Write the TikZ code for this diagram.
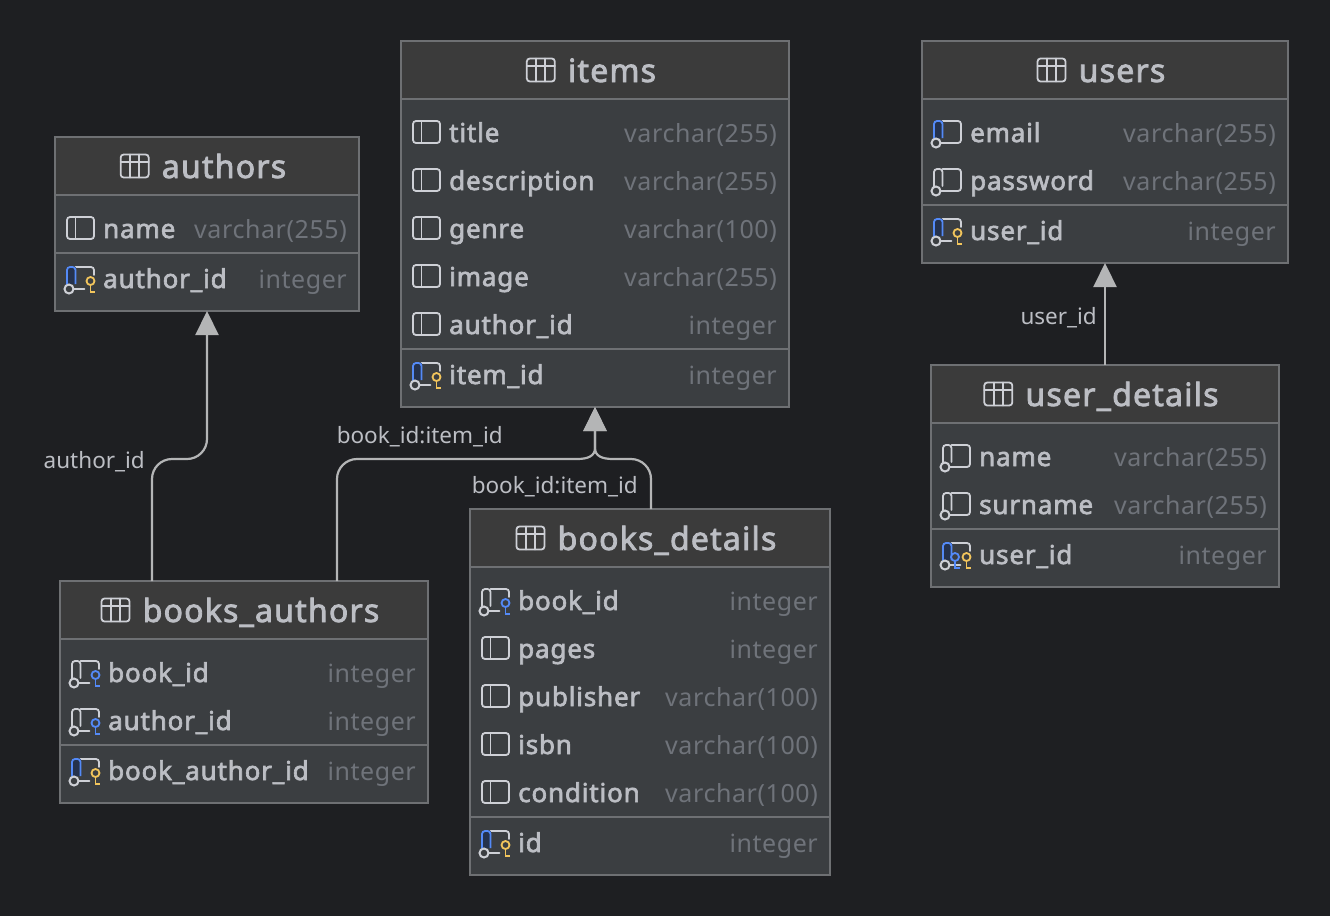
\documentclass[tikz,border=0pt]{standalone}
\usepackage{fontspec}
\usepackage{xcolor}
\setmainfont{Noto Sans}
\newfontfamily\dbFontTitle{Noto Sans}[LetterSpace=3.8,FakeBold=2.5]
\newfontfamily\dbFontName{Noto Sans}[LetterSpace=3.2,FakeBold=2.5]
\newfontfamily\dbFontType{Noto Sans}[LetterSpace=2.3]
\usetikzlibrary{arrows.meta}
\definecolor{cBack}{HTML}{1E1F22}
\definecolor{cHead}{HTML}{3B3B3B}
\definecolor{cBody}{HTML}{3B3E41}
\definecolor{cEdge}{HTML}{6E7073}
\definecolor{cText}{HTML}{BCBEC4}
\definecolor{cType}{HTML}{6F737A}
\definecolor{cIcon}{HTML}{CED0D6}
\definecolor{cBlue}{HTML}{548AF7}
\definecolor{cDeep}{HTML}{25324D}
\definecolor{cGold}{HTML}{F2C55C}
\definecolor{cLink}{HTML}{B4B5B6}
\tikzstyle{dbBody} = [rectangle, anchor=north west, outer sep=0pt, inner sep=0pt, draw=cEdge, line width=1.3pt, fill=cBody]
\tikzstyle{dbHead} = [rectangle, anchor=north west, outer sep=0pt, inner sep=0pt, draw=cEdge, line width=1.3pt, fill=cHead, minimum height=58pt]
\tikzstyle{dbTitle} = [anchor=base, inner sep=0pt, text=cText, font=\dbFontTitle\fontsize{32}{36}\selectfont]
\tikzstyle{dbName} = [anchor=base west, inner sep=0pt, text=cText, font=\dbFontName\fontsize{26}{30}\selectfont]
\tikzstyle{dbType} = [anchor=base east, inner sep=0pt, text=cType, font=\dbFontType\fontsize{25}{30}\selectfont]
\tikzstyle{dbSep} = [draw=cEdge, line width=1.6pt]
\tikzstyle{dbLink} = [draw=cLink, line width=2.2pt, rounded corners=20pt, -{Triangle[width=23pt,length=24pt,fill=cLink]}]
\tikzstyle{dbLabel} = [anchor=base east, inner sep=0pt, text=cText, font=\fontsize{22.5}{26}\selectfont]
\tikzstyle{iconLine} = [draw=cIcon, line width=1.8pt, line cap=round]
\tikzset{
    pics/colPlain/.style={code={
        \draw [iconLine, rounded corners=3pt] (-13.5,-11) rectangle (13.5,11);
        \draw [iconLine] (-5,-11) -- (-5,11);
    }},
    pics/colFull/.style={code={
        \draw [iconLine, rounded corners=3pt] (-5,-11) -- (13.5,-11) -- (13.5,11) -- (-7,11);
    }},
    pics/colOpen/.style={code={
        \draw [iconLine, rounded corners=3pt] (-5,-11) -- (13.5,-11) -- (13.5,-3);
        \draw [iconLine] (-7,11) -- (4,11);
    }},
    pics/colGreyBar/.style={code={
        \draw [iconLine, rounded corners=3pt] (-13.5,7) -- (-13.5,-11) -- (-5,-11) -- (-5,6);
        \draw [iconLine, line width=2pt, fill=cBody] (-11.5,11) circle (4.5pt);
    }},
    pics/colBlueBar/.style={code={
        \fill [cDeep] (-13.5,-11) rectangle (-5,6);
        \draw [draw=cBlue, line width=1.8pt, rounded corners=3pt] (-13.5,7) -- (-13.5,-11) -- (-5,-11) -- (-5,6);
        \draw [iconLine, line width=2pt, fill=cBody] (-11.5,11) circle (4.5pt);
    }},
    pics/colKey/.style 2 args={code={
        \draw [draw=#2, line width=1.8pt, fill=cBody] (#1,3) circle (4pt);
        \draw [draw=#2, line width=1.8pt] (#1,7) -- (#1,15) (#1,14) -- (#1+4.5,14);
    }},
    pics/colGrey/.style={code={\pic {colFull}; \pic {colGreyBar};}},
    pics/colUniq/.style={code={\pic {colFull}; \pic {colBlueBar};}},
    pics/colFk/.style={code={\pic {colOpen}; \pic {colGreyBar}; \pic {colKey={10}{cBlue}};}},
    pics/colPk/.style={code={\pic {colOpen}; \pic {colBlueBar}; \pic {colKey={10}{cGold}};}},
    pics/colPkFk/.style={code={\pic {colOpen}; \pic {colBlueBar}; \pic {colKey={-1.5}{cBlue}}; \pic {colKey={10}{cGold}};}},
    pics/tblMark/.style={code={
        \draw [iconLine, rounded corners=3pt] (-14,-11.5) rectangle (14,11.5);
        \draw [iconLine] (-14,-4) -- (14,-4) (-4.5,-11.5) -- (-4.5,11.5) (4.5,-11.5) -- (4.5,11.5);
    }}
}
\newcommand{\dbTable}[7]{%
    \node (#1) [dbBody, minimum width=#5pt, minimum height=#6pt] at (#3,#4) {};
    \node (#1Head) [dbHead, minimum width=#5pt] at (#1.north west) {};
    \node (#1Title) [dbTitle] at ([shift={(17,41)}]#1.north) {#2};
    \pic at ([shift={(-27,-12)}]#1Title.base west) {tblMark};
    \draw [dbSep] ([yshift=-#7pt]#1.north west) -- ([yshift=-#7pt]#1.north east);
}
\newcommand{\dbRow}[6]{%
    \pic at ([shift={(25.5,#6-1)}]#1.north west) {#3};
    \node (#1#2) [dbName] at ([shift={(48,#6+9)}]#1.north west) {#4};
    \node (#1#2Type) [dbType] at ([shift={(-12,#6+9)}]#1.north east) {#5};
}
\begin{document}
\begin{tikzpicture}[x=1pt, y=-1pt]
    \node (canvas) [rectangle, fill=cBack, minimum width=1330pt, minimum height=916pt, anchor=north west, inner sep=0pt, outer sep=0pt] at (0,0) {};
    \useasboundingbox (canvas.north west) rectangle (canvas.south east);

    \dbTable{authors}{authors}{55}{137}{304}{174}{116}
    \dbRow{authors}{Name}{colPlain}{name}{varchar(255)}{92}
    \dbRow{authors}{Id}{colPk}{author\_id}{integer}{142}

    \dbTable{items}{items}{401}{41}{388}{366}{308}
    \dbRow{items}{Title}{colPlain}{title}{varchar(255)}{92}
    \dbRow{items}{Desc}{colPlain}{description}{varchar(255)}{140}
    \dbRow{items}{Genre}{colPlain}{genre}{varchar(100)}{188}
    \dbRow{items}{Image}{colPlain}{image}{varchar(255)}{236}
    \dbRow{items}{Author}{colPlain}{author\_id}{integer}{284}
    \dbRow{items}{Id}{colPk}{item\_id}{integer}{334}

    \dbTable{users}{users}{922}{41}{366}{222}{164}
    \dbRow{users}{Email}{colUniq}{email}{varchar(255)}{92}
    \dbRow{users}{Password}{colGrey}{password}{varchar(255)}{140}
    \dbRow{users}{Id}{colPk}{user\_id}{integer}{190}

    \dbTable{userDetails}{user\_details}{931}{365}{348}{222}{164}
    \dbRow{userDetails}{Name}{colGrey}{name}{varchar(255)}{92}
    \dbRow{userDetails}{Surname}{colGrey}{surname}{varchar(255)}{140}
    \dbRow{userDetails}{Id}{colPkFk}{user\_id}{integer}{190}

    \dbTable{booksAuthors}{books\_authors}{60}{581}{368}{222}{164}
    \dbRow{booksAuthors}{Book}{colFk}{book\_id}{integer}{92}
    \dbRow{booksAuthors}{Author}{colFk}{author\_id}{integer}{140}
    \dbRow{booksAuthors}{Id}{colPk}{book\_author\_id}{integer}{190}

    \dbTable{booksDetails}{books\_details}{470}{509}{360}{366}{308}
    \dbRow{booksDetails}{Book}{colFk}{book\_id}{integer}{92}
    \dbRow{booksDetails}{Pages}{colPlain}{pages}{integer}{140}
    \dbRow{booksDetails}{Publisher}{colPlain}{publisher}{varchar(100)}{188}
    \dbRow{booksDetails}{Isbn}{colPlain}{isbn}{varchar(100)}{236}
    \dbRow{booksDetails}{Condition}{colPlain}{condition}{varchar(100)}{284}
    \dbRow{booksDetails}{Id}{colPk}{id}{integer}{334}

    \coordinate (authorsLeft) at (152,459);
    \coordinate (authorsRight) at (207,459);
    \coordinate (itemsLeft) at (337,459);
    \coordinate (itemsRight) at (651,459);
    \coordinate (itemsJoin) at (595,459);

    \draw [dbLink] ([xshift=92pt]booksAuthors.north west) -- (authorsLeft) -- (authorsRight) -- (authors.south);
    \draw [dbLink, rounded corners=0pt] ([xshift=277pt]booksAuthors.north west) -- ([yshift=-20pt]itemsLeft) .. controls ([yshift=-9pt]itemsLeft) and ([xshift=9pt]itemsLeft) .. ([xshift=20pt]itemsLeft) -- ([xshift=-18pt]itemsJoin) .. controls ([xshift=-7pt]itemsJoin) and ([yshift=3pt]itemsJoin) .. ([yshift=11pt]itemsJoin) -- (items.south);
    \draw [dbLink, rounded corners=0pt] ([xshift=181pt]booksDetails.north west) -- ([yshift=-20pt]itemsRight) .. controls ([yshift=-9pt]itemsRight) and ([xshift=-9pt]itemsRight) .. ([xshift=-20pt]itemsRight) -- ([xshift=18pt]itemsJoin) .. controls ([xshift=7pt]itemsJoin) and ([yshift=3pt]itemsJoin) .. ([yshift=11pt]itemsJoin) -- (items.south);
    \draw [dbLink] (userDetails.north) -- (users.south);

    \node (labelAuthor) [dbLabel] at (145,468) {author\_id};
    \node (labelBooks) [dbLabel] at (503,443) {book\_id:item\_id};
    \node (labelDetails) [dbLabel] at (638,493) {book\_id:item\_id};
    \node (labelUser) [dbLabel] at (1097,324) {user\_id};
\end{tikzpicture}
\end{document}
